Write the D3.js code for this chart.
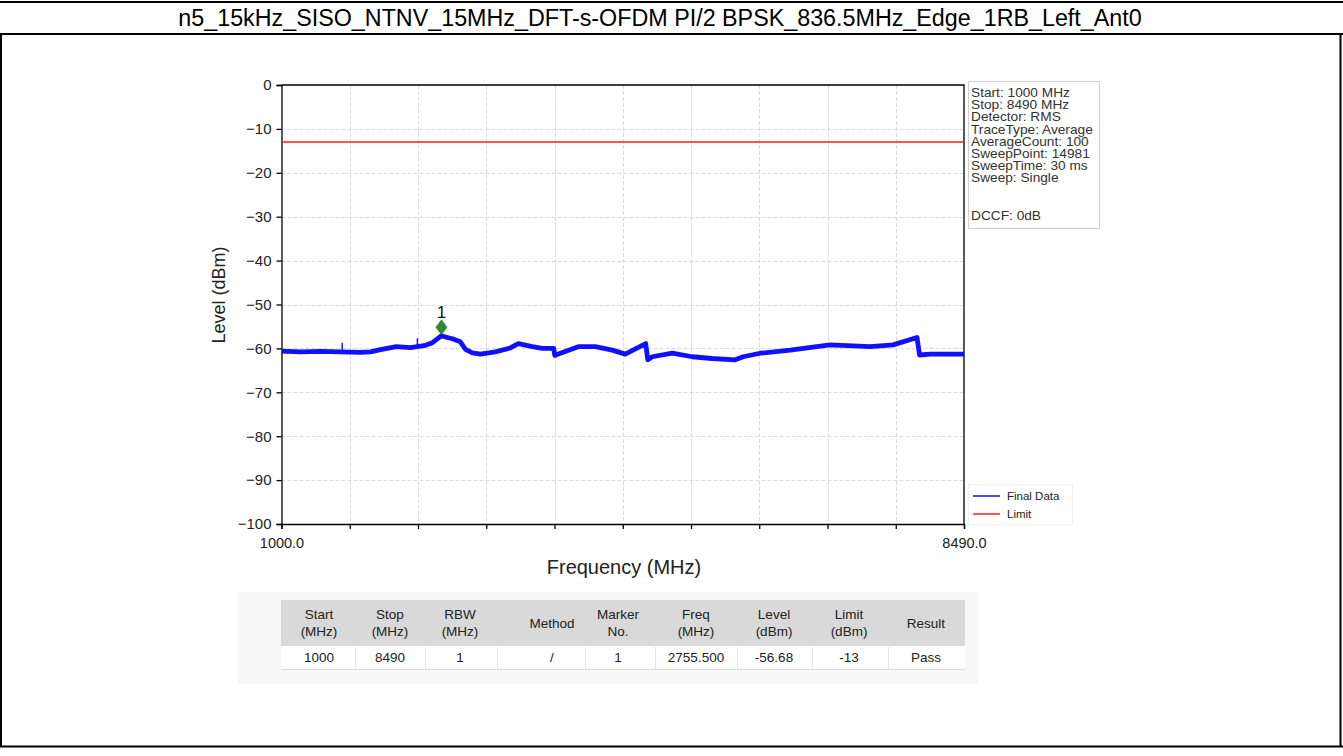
<!DOCTYPE html>
<html>
<head>
<meta charset="utf-8">
<script src="https://cdn.jsdelivr.net/npm/d3@7"></script>
<style>
  html, body { margin: 0; padding: 0; background: #fff; }
  svg { display: block; font-family: "Liberation Sans", Arial, sans-serif; }
</style>
</head>
<body>
<svg id="chart" width="1343" height="756"></svg>
<script>
// ---- data ----
const title = "n5_15kHz_SISO_NTNV_15MHz_DFT-s-OFDM PI/2 BPSK_836.5MHz_Edge_1RB_Left_Ant0";

// measured spectrum (Final Data), MHz / dBm
const freqMHz = [1000, 1208, 1428, 1640, 1866, 1976, 2086, 2261, 2415, 2579, 2656, 2755.5, 2800, 2875,
  2963, 3018, 3095, 3182, 3347, 3511, 3599, 3752, 3862, 3988, 3999, 4038, 4257, 4443, 4630, 4772,
  4997, 5019, 5068, 5288, 5507, 5726, 5979, 6067, 6253, 6582, 7020, 7459, 7711, 7974, 8002, 8117, 8490];
const levelDbm = [-60.6, -60.8, -60.7, -60.8, -60.9, -60.8, -60.3, -59.6, -59.8, -59.3, -58.7, -57.1, -57.4, -57.8,
  -58.5, -60.2, -61.0, -61.3, -60.8, -59.9, -58.9, -59.6, -60.0, -60.0, -61.6, -61.3, -59.6, -59.6, -60.4, -61.3,
  -58.9, -62.6, -61.9, -61.1, -61.9, -62.3, -62.6, -61.9, -61.1, -60.4, -59.2, -59.6, -59.2, -57.5, -61.5, -61.3, -61.3];

// narrow spurs riding on the trace
const spurFreq = [1666, 2491];
const spurLevel = [-58.7, -57.7];

const limitDbm = -13;
const xDomain = [1000, 8490];
const yDomain = [-100, 0];
const yTicks = [0, -10, -20, -30, -40, -50, -60, -70, -80, -90, -100];
const xTicks = d3.range(11).map(i => 1000 + i * 749);

const markerNo = "1";
const markerFreq = 2755.5;
const markerLevel = -56.68;

const infoLines = ["Start: 1000 MHz", "Stop: 8490 MHz", "Detector: RMS", "TraceType: Average",
  "AverageCount: 100", "SweepPoint: 14981", "SweepTime: 30 ms", "Sweep: Single"];
const infoFooter = "DCCF: 0dB";

const legendLabels = ["Final Data", "Limit"];

const tableHeader = [["Start", "(MHz)"], ["Stop", "(MHz)"], ["RBW", "(MHz)"], ["Method"], ["Marker", "No."],
  ["Freq", "(MHz)"], ["Level", "(dBm)"], ["Limit", "(dBm)"], ["Result"]];
const tableRow = ["1000", "8490", "1", "/", "1", "2755.500", "-56.68", "-13", "Pass"];

// ---- layout ----
const svg = d3.select("#chart");
const W = 1343;
const plot = { left: 281.5, right: 964, top: 85, bottom: 524 };
const traceColor = "#1010ff", limitColor = "#ff1a1a", markerColor = "#2e8b2e";

// page frame and title row
const frame = svg.append("g").attr("stroke", "#000").attr("fill", "none").attr("stroke-width", 2);
frame.append("line").attr("x1", 0).attr("x2", W).attr("y1", 2).attr("y2", 2);
frame.append("line").attr("x1", 0).attr("x2", W).attr("y1", 34).attr("y2", 34);
frame.append("line").attr("x1", 1).attr("x2", 1).attr("y1", 34).attr("y2", 747);
frame.append("line").attr("x1", 1340.5).attr("x2", 1340.5).attr("y1", 34).attr("y2", 747);
frame.append("line").attr("x1", 0).attr("x2", W).attr("y1", 746.5).attr("y2", 746.5);

svg.append("text").attr("x", 660).attr("y", 26).attr("text-anchor", "middle")
  .attr("font-size", 23.3).attr("fill", "#000").text(title);

// scales
const x = d3.scaleLinear().domain(xDomain).range([plot.left, plot.right]);
const y = d3.scaleLinear().domain(yDomain).range([plot.bottom, plot.top]);

// grid
const grid = svg.append("g").attr("stroke", "#dadada").attr("stroke-width", 1).attr("stroke-dasharray", "4,2");
grid.selectAll("line.v").data(xTicks.slice(1, -1)).join("line")
  .attr("x1", d => Math.round(x(d)) + 0.5).attr("x2", d => Math.round(x(d)) + 0.5)
  .attr("y1", plot.top).attr("y2", plot.bottom);
grid.selectAll("line.h").data(yTicks.slice(1, -1)).join("line")
  .attr("x1", plot.left).attr("x2", plot.right)
  .attr("y1", d => Math.round(y(d)) + 0.5).attr("y2", d => Math.round(y(d)) + 0.5);

// plot border (top, right)
svg.append("path").attr("fill", "none").attr("stroke", "#000").attr("stroke-width", 1.3)
  .attr("d", `M${plot.left},${plot.top}H${plot.right}V${plot.bottom}`);

// axes
const yAxis = svg.append("g").attr("transform", `translate(${plot.left},0)`)
  .call(d3.axisLeft(y).tickValues(yTicks).tickSize(5).tickPadding(5).tickFormat(d3.format("d")));
const xAxis = svg.append("g").attr("transform", `translate(0,${plot.bottom})`)
  .call(d3.axisBottom(x).tickValues(xTicks).tickSize(5).tickPadding(9)
    .tickFormat((d, i) => (i === 0 || i === xTicks.length - 1) ? d3.format(".1f")(d) : ""));
[yAxis, xAxis].forEach(a => {
  a.selectAll("path.domain").attr("stroke", "#000").attr("stroke-width", 1.3);
  a.selectAll(".tick line").attr("stroke", "#000").attr("stroke-width", 1.3);
  a.selectAll("text").attr("fill", "#222").attr("font-family", "Liberation Sans, Arial, sans-serif");
});
yAxis.selectAll("text").attr("font-size", 15);
xAxis.selectAll("text").attr("font-size", 14.5);

// axis titles
svg.append("text").attr("transform", `translate(225,295) rotate(-90)`)
  .attr("text-anchor", "middle").attr("font-size", 18).attr("fill", "#222").text("Level (dBm)");
svg.append("text").attr("x", 624).attr("y", 574).attr("text-anchor", "middle")
  .attr("font-size", 20).attr("fill", "#222").text("Frequency (MHz)");

// limit line
svg.append("line").attr("x1", plot.left).attr("x2", plot.right)
  .attr("y1", y(limitDbm)).attr("y2", y(limitDbm))
  .attr("stroke", limitColor).attr("stroke-width", 1.6);

// trace
const pts = freqMHz.map((f, i) => [f, levelDbm[i]]);
const levelAt = d3.scaleLinear().domain(freqMHz).range(levelDbm);
svg.selectAll("line.spur").data(spurFreq).join("line")
  .attr("x1", d => x(d)).attr("x2", d => x(d))
  .attr("y1", d => y(levelAt(d))).attr("y2", (d, i) => y(spurLevel[i]))
  .attr("stroke", traceColor).attr("stroke-width", 1.4);
svg.append("path").datum(pts)
  .attr("fill", "none").attr("stroke", traceColor).attr("stroke-width", 4.8).attr("stroke-linejoin", "round")
  .attr("d", d3.line().x(d => x(d[0])).y(d => y(d[1])));

// marker
const mx = x(markerFreq), my = y(markerLevel);
svg.append("path").attr("fill", markerColor).attr("stroke", "#1f6f1f").attr("stroke-width", 0.6)
  .attr("d", `M${mx},${my - 14}L${mx + 5.5},${my - 6.5}L${mx},${my + 1}L${mx - 5.5},${my - 6.5}Z`);
svg.append("text").attr("x", mx).attr("y", my - 16).attr("text-anchor", "middle")
  .attr("font-size", 17).attr("fill", "#111").text(markerNo);

// info box
svg.append("rect").attr("x", 968.5).attr("y", 81.5).attr("width", 131).attr("height", 147)
  .attr("fill", "#fff").attr("stroke", "#cfcfcf");
const info = svg.append("g").attr("transform", "translate(971,0) scale(1.07,1)")
  .attr("font-size", 12.8).attr("fill", "#333");
infoLines.forEach((t, i) => info.append("text").attr("x", 0).attr("y", 97 + i * 12.2).text(t));
info.append("text").attr("x", 0).attr("y", 220).text(infoFooter);

// legend
svg.append("rect").attr("x", 968.5).attr("y", 484.5).attr("width", 104).attr("height", 40)
  .attr("fill", "#fff").attr("stroke", "#f0f0f0");
const lg = svg.append("g");
[traceColor, limitColor].forEach((c, i) => {
  const yy = 496 + i * 18;
  lg.append("line").attr("x1", 973).attr("x2", 1000).attr("y1", yy).attr("y2", yy)
    .attr("stroke", c).attr("stroke-width", 1.5);
  lg.append("text").attr("x", 1007).attr("y", yy + 4).attr("font-size", 11.5).attr("fill", "#222")
    .text(legendLabels[i]);
});

// summary table
const colCenters = [319, 390, 460, 552, 618, 696, 774, 849, 926];
const colEdges = [281, 355, 425, 497, 585, 655, 737, 812, 888, 965];
const tbl = svg.append("g");
tbl.append("rect").attr("x", 238).attr("y", 592).attr("width", 740).attr("height", 92).attr("fill", "#f7f7f7");
tbl.append("rect").attr("x", colEdges[0]).attr("y", 600).attr("width", colEdges[9] - colEdges[0]).attr("height", 46)
  .attr("fill", "#d9d9d9");
tbl.append("rect").attr("x", colEdges[0]).attr("y", 646).attr("width", colEdges[9] - colEdges[0]).attr("height", 23)
  .attr("fill", "#fff");
tbl.append("line").attr("x1", colEdges[0]).attr("x2", colEdges[9]).attr("y1", 669.5).attr("y2", 669.5)
  .attr("stroke", "#dcdcdc");
tbl.selectAll("line.sep").data(colEdges.slice(1, -1)).join("line")
  .attr("x1", d => d + 0.5).attr("x2", d => d + 0.5).attr("y1", 647).attr("y2", 669)
  .attr("stroke", "#e4e4e4");
tableHeader.forEach((lines, i) => {
  const cx = colCenters[i];
  if (lines.length === 2) {
    tbl.append("text").attr("x", cx).attr("y", 619).attr("text-anchor", "middle").attr("font-size", 13.5)
      .attr("fill", "#222").text(lines[0]);
    tbl.append("text").attr("x", cx).attr("y", 636).attr("text-anchor", "middle").attr("font-size", 13.5)
      .attr("fill", "#222").text(lines[1]);
  } else {
    tbl.append("text").attr("x", cx).attr("y", 628).attr("text-anchor", "middle").attr("font-size", 13.5)
      .attr("fill", "#222").text(lines[0]);
  }
  tbl.append("text").attr("x", cx).attr("y", 662).attr("text-anchor", "middle").attr("font-size", 13.5)
    .attr("fill", "#222").text(tableRow[i]);
});
</script>
</body>
</html>
